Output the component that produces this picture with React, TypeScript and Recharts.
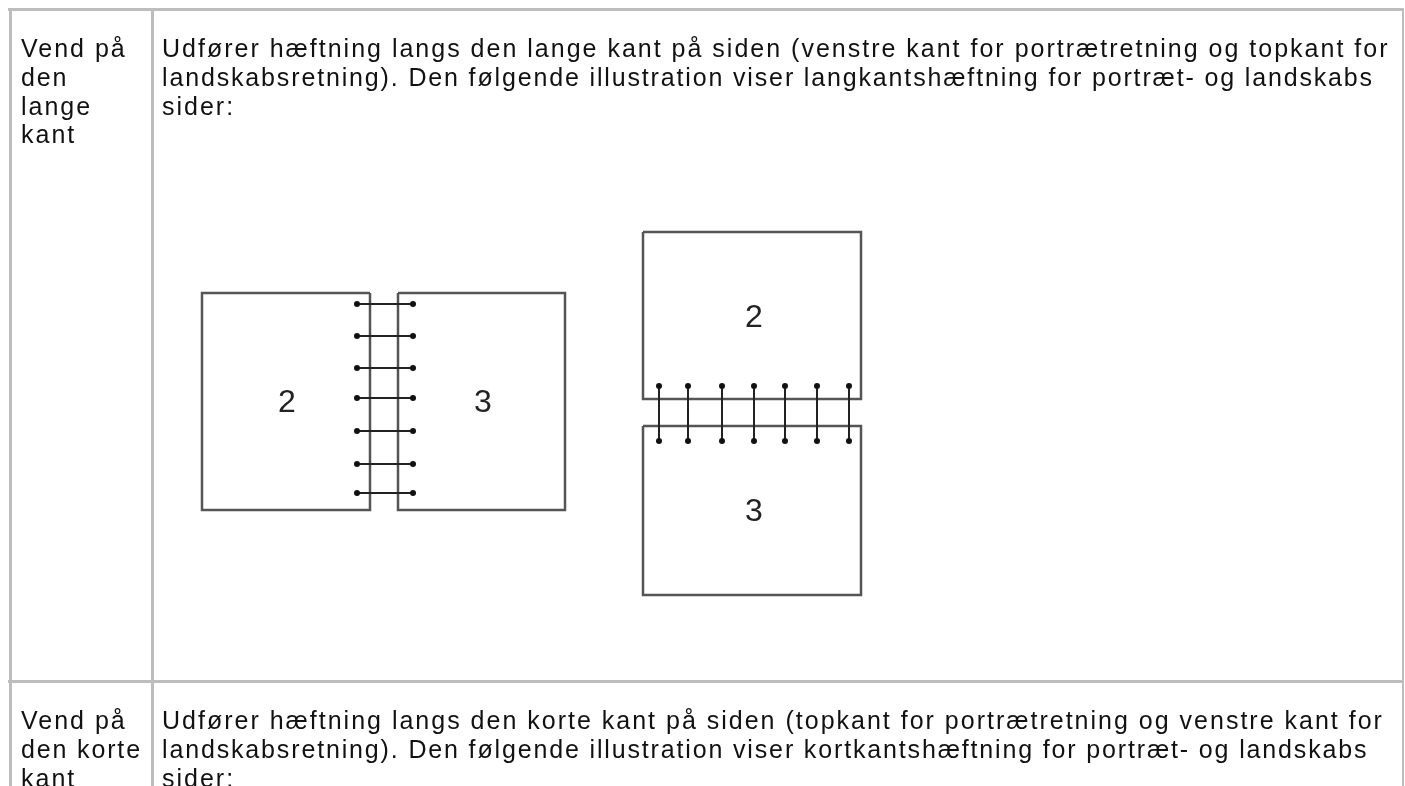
import { LabelList, Scatter, ScatterChart, XAxis, YAxis } from 'recharts';

const WIDTH = 1405;
const HEIGHT = 786;

// table text, one entry per rendered line
const row1Head = ['Vend på', 'den', 'lange', 'kant'];
const row1Body = [
	'Udfører hæftning langs den lange kant på siden (venstre kant for portrætretning og topkant for',
	'landskabsretning). Den følgende illustration viser langkantshæftning for portræt- og landskabs',
	'sider:',
];
const row2Head = ['Vend på', 'den korte', 'kant'];
const row2Body = [
	'Udfører hæftning langs den korte kant på siden (topkant for portrætretning og venstre kant for',
	'landskabsretning). Den følgende illustration viser kortkantshæftning for portræt- og landskabs',
	'sider:',
];

// illustration, in page pixels
const sideBySidePage2 = [
	{ x: 370, y: 293 },
	{ x: 202, y: 293 },
	{ x: 202, y: 510 },
	{ x: 370, y: 510 },
	{ x: 370, y: 293 },
];
const sideBySidePage3 = [
	{ x: 398, y: 293 },
	{ x: 565, y: 293 },
	{ x: 565, y: 510 },
	{ x: 398, y: 510 },
	{ x: 398, y: 293 },
];
const stackedPage2 = [
	{ x: 643, y: 232 },
	{ x: 861, y: 232 },
	{ x: 861, y: 399 },
	{ x: 643, y: 399 },
	{ x: 643, y: 232 },
];
const stackedPage3 = [
	{ x: 643, y: 426 },
	{ x: 861, y: 426 },
	{ x: 861, y: 595 },
	{ x: 643, y: 595 },
	{ x: 643, y: 426 },
];
const stitchRows = [304, 336, 368, 398, 431, 464, 493];
const stitchColumns = [659, 688, 722, 754, 785, 817, 849];
const stitchLeft = 357;
const stitchRight = 413;
const stitchTop = 386;
const stitchBottom = 441;
const pageNumbers = [
	{ x: 287, y: 401, label: '2' },
	{ x: 483, y: 401, label: '3' },
	{ x: 754, y: 316, label: '2' },
	{ x: 754, y: 510, label: '3' },
];

const stitches = [
	...stitchRows.map((y) => [
		{ x: stitchLeft, y },
		{ x: stitchRight, y },
	]),
	...stitchColumns.map((x) => [
		{ x, y: stitchTop },
		{ x, y: stitchBottom },
	]),
];
const pages = [sideBySidePage2, sideBySidePage3, stackedPage2, stackedPage3];

const noDot = () => <g />;
const stitchDot = ({ cx, cy }: any) => <circle cx={cx} cy={cy} r={3} fill="#111" />;

function TextLines({ lines, x, top }: { lines: string[]; x: number; top: number }) {
	return (
		<>
			{lines.map((line, i) => (
				<div
					key={i}
					style={{
						position: 'absolute',
						left: x,
						top: top + i * 28.8,
						lineHeight: '28px',
						whiteSpace: 'nowrap',
						// second lines run a little tighter in the reference
						letterSpacing: i === 1 ? 1.85 : 2,
					}}
				>
					{line}
				</div>
			))}
		</>
	);
}

const ruleStyle = { position: 'absolute', background: '#bdbdbd' } as const;

export default function App() {
	return (
		<div
			style={{
				position: 'fixed',
				left: 0,
				top: 0,
				width: WIDTH,
				height: HEIGHT,
				overflow: 'hidden',
				background: '#fff',
				color: '#111',
				fontFamily: '"Liberation Sans", Arial, sans-serif',
				fontSize: 25,
				filter: 'blur(0.6px)',
			}}
		>
			<div style={{ ...ruleStyle, left: 8, top: 8, width: 1396, height: 3 }} />
			<div style={{ ...ruleStyle, left: 8, top: 680, width: 1396, height: 3 }} />
			<div style={{ ...ruleStyle, left: 9, top: 8, width: 3, height: 778 }} />
			<div style={{ ...ruleStyle, left: 151, top: 8, width: 3, height: 778 }} />
			<div style={{ ...ruleStyle, left: 1402, top: 8, width: 2, height: 778 }} />

			<TextLines lines={row1Head} x={21} top={34} />
			<TextLines lines={row1Body} x={162} top={34} />
			<TextLines lines={row2Head} x={21} top={706} />
			<TextLines lines={row2Body} x={162} top={706} />

			<div style={{ position: 'absolute', left: 0, top: 0 }}>
				<ScatterChart width={WIDTH} height={HEIGHT} margin={{ top: 0, right: 0, bottom: 0, left: 0 }}>
					<XAxis type="number" dataKey="x" domain={[0, WIDTH]} hide />
					<YAxis type="number" dataKey="y" domain={[0, HEIGHT]} reversed hide />
					{pages.map((page, i) => (
						<Scatter
							key={`page-${i}`}
							data={page}
							line={{ stroke: '#555', strokeWidth: 2.5 }}
							shape={noDot}
							isAnimationActive={false}
						/>
					))}
					{stitches.map((stitch, i) => (
						<Scatter
							key={`stitch-${i}`}
							data={stitch}
							line={{ stroke: '#222', strokeWidth: 2 }}
							shape={stitchDot}
							isAnimationActive={false}
						/>
					))}
					<Scatter data={pageNumbers} shape={noDot} isAnimationActive={false}>
						<LabelList
							dataKey="label"
							position="center"
							fill="#222"
							fontSize={32}
							fontFamily='"Liberation Sans", Arial, sans-serif'
						/>
					</Scatter>
				</ScatterChart>
			</div>
		</div>
	);
}
